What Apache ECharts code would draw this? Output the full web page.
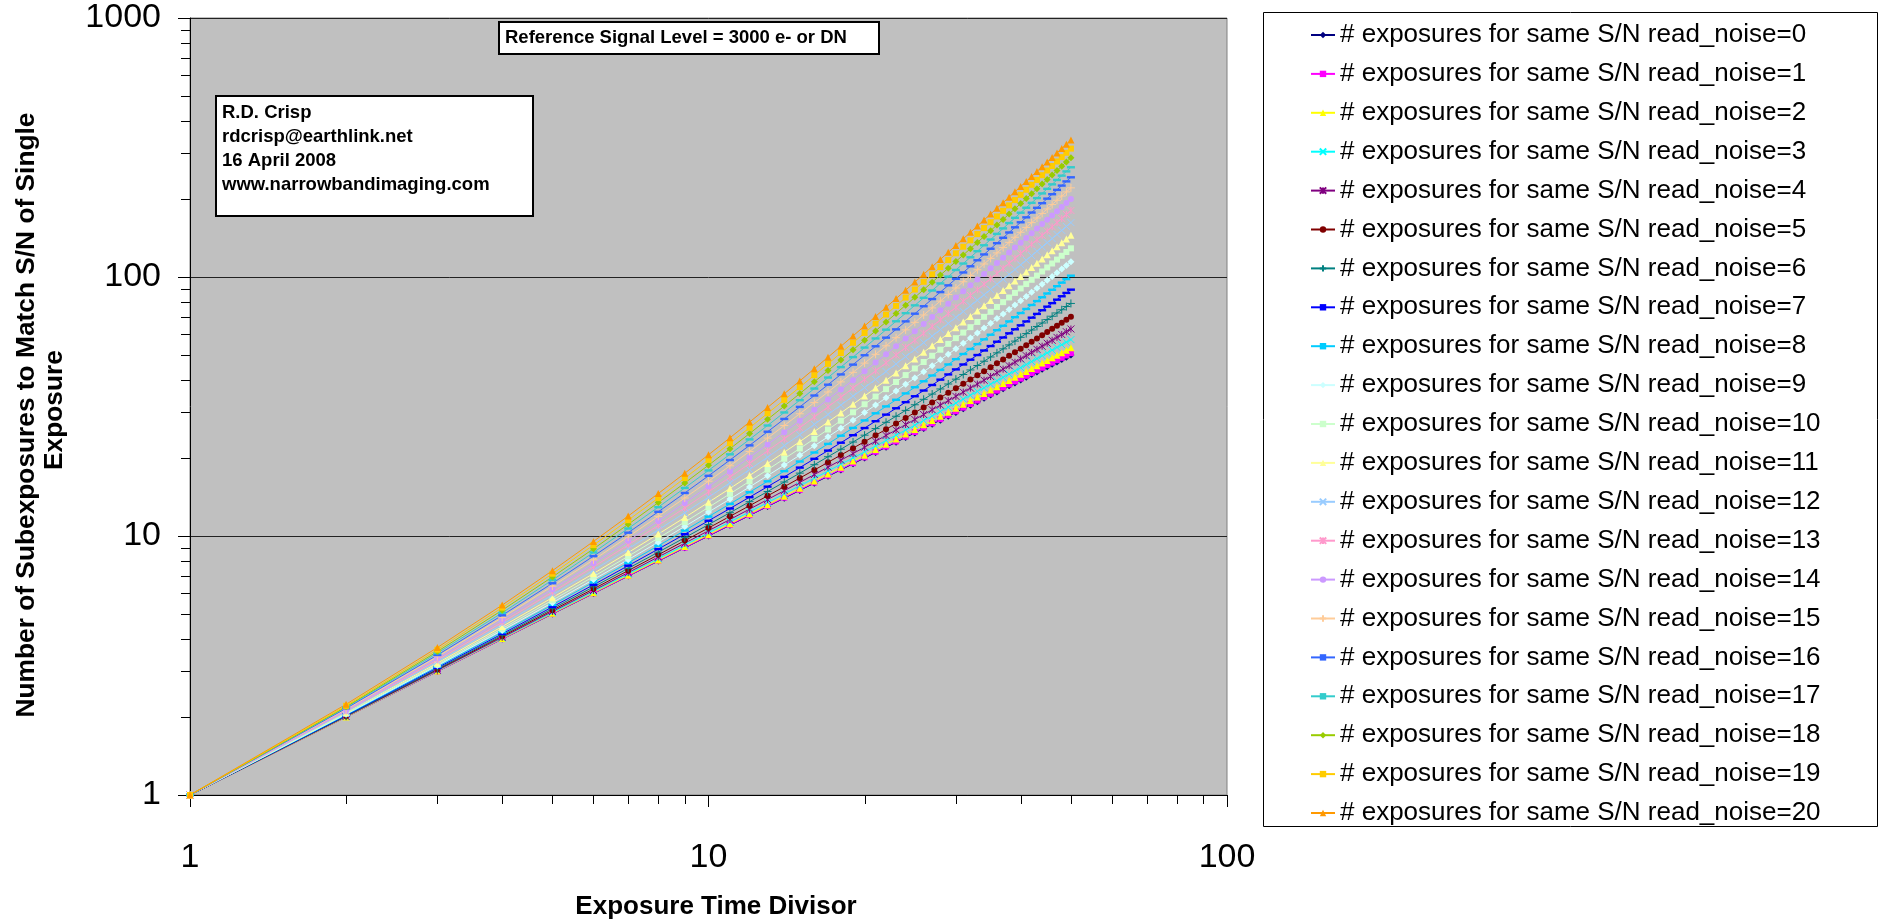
<!DOCTYPE html>
<html><head><meta charset="utf-8">
<script src="https://cdn.jsdelivr.net/npm/echarts@6/dist/echarts.min.js"></script>
<style>html,body{margin:0;padding:0;background:#fff;}#c{width:1881px;height:922px;}</style>
</head><body><div id="c"></div>
<script>
// ---- data ----
const divisors = [1,2,3,4,5,6,7,8,9,10,11,12,13,14,15,16,17,18,19,20,21,22,23,24,25,26,27,28,29,30,31,32,33,34,35,36,37,38,39,40,41,42,43,44,45,46,47,48,49,50];
const readNoise = [0,1,2,3,4,5,6,7,8,9,10,11,12,13,14,15,16,17,18,19,20];
const rn0 = [1,2,3,4,5,6,7,8,9,10,11,12,13,14,15,16,17,18,19,20,21,22,23,24,25,26,27,28,29,30,31,32,33,34,35,36,37,38,39,40,41,42,43,44,45,46,47,48,49,50];
const rn1 = [1,2,3,4,5.01,6.01,7.01,8.02,9.02,10.03,11.04,12.04,13.05,14.06,15.07,16.08,17.09,18.1,19.11,20.13,21.14,22.15,23.17,24.18,25.2,26.22,27.23,28.25,29.27,30.29,31.31,32.33,33.35,34.37,35.4,36.42,37.44,38.47,39.49,40.52,41.55,42.57,43.6,44.63,45.66,46.69,47.72,48.75,49.78,50.82];
const rn2 = [1,2,3.01,4.02,5.03,6.04,7.06,8.07,9.1,10.12,11.15,12.18,13.21,14.24,15.28,16.32,17.36,18.41,19.46,20.51,21.56,22.62,23.67,24.74,25.8,26.87,27.93,29.01,30.08,31.16,32.24,33.32,34.41,35.49,36.58,37.68,38.77,39.87,40.97,42.08,43.18,44.29,45.4,46.52,47.64,48.76,49.88,51,52.13,53.26];
const rn3 = [1,2.01,3.02,4.04,5.06,6.09,7.13,8.17,9.22,10.27,11.33,12.39,13.47,14.54,15.63,16.72,17.81,18.92,20.02,21.14,22.26,23.38,24.51,25.65,26.79,27.94,29.1,30.26,31.43,32.6,33.78,34.97,36.16,37.36,38.56,39.77,40.98,42.21,43.43,44.67,45.91,47.15,48.4,49.66,50.92,52.19,53.47,54.75,56.03,57.33];
const rn4 = [1,2.01,3.03,4.06,5.11,6.16,7.22,8.3,9.38,10.48,11.58,12.7,13.83,14.97,16.11,17.27,18.44,19.62,20.81,22.02,23.23,24.45,25.68,26.93,28.18,29.45,30.72,32.01,33.31,34.62,35.93,37.26,38.6,39.95,41.31,42.68,44.07,45.46,46.86,48.28,49.7,51.14,52.58,54.04,55.5,56.98,58.47,59.97,61.48,63];
const rn5 = [1,2.02,3.05,4.1,5.17,6.25,7.35,8.46,9.6,10.74,11.91,13.09,14.29,15.5,16.74,17.98,19.25,20.53,21.83,23.14,24.47,25.82,27.18,28.56,29.96,31.37,32.8,34.25,35.71,37.19,38.69,40.2,41.73,43.27,44.83,46.41,48.01,49.62,51.25,52.89,54.55,56.23,57.93,59.64,61.36,63.11,64.87,66.64,68.44,70.25];
const rn6 = [1,2.02,3.07,4.14,5.24,6.36,7.5,8.66,9.85,11.07,12.3,13.57,14.85,16.16,17.49,18.85,20.23,21.63,23.06,24.51,25.98,27.48,29,30.55,32.11,33.71,35.32,36.96,38.63,40.32,42.03,43.76,45.52,47.3,49.11,50.94,52.79,54.67,56.57,58.5,60.45,62.42,64.42,66.43,68.48,70.55,72.64,74.75,76.89,79.05];
const rn7 = [1,2.03,3.1,4.19,5.32,6.48,7.68,8.9,10.16,11.45,12.77,14.12,15.51,16.92,18.37,19.86,21.37,22.92,24.5,26.11,27.75,29.42,31.13,32.87,34.64,36.45,38.28,40.15,42.05,43.98,45.95,47.94,49.97,52.03,54.12,56.25,58.41,60.6,62.82,65.07,67.36,69.67,72.02,74.41,76.82,79.27,81.75,84.26,86.8,89.37];
const rn8 = [1,2.04,3.13,4.25,5.42,6.63,7.88,9.17,10.5,11.88,13.3,14.76,16.26,17.8,19.39,21.01,22.68,24.39,26.14,27.94,29.77,31.65,33.57,35.53,37.53,39.58,41.66,43.79,45.96,48.17,50.43,52.72,55.06,57.44,59.86,62.32,64.82,67.37,69.96,72.59,75.26,77.97,80.72,83.52,86.36,89.24,92.16,95.12,98.13,101.18];
const rn9 = [1,2.05,3.16,4.32,5.53,6.79,8.1,9.47,10.89,12.37,13.89,15.47,17.1,18.78,20.52,22.31,24.15,26.04,27.99,29.99,32.04,34.15,36.3,38.51,40.77,43.09,45.46,47.88,50.35,52.87,55.45,58.08,60.76,63.5,66.29,69.13,72.02,74.96,77.96,81.01,84.12,87.27,90.48,93.74,97.05,100.42,103.84,107.31,110.83,114.41];
const rn10 = [1,2.06,3.19,4.39,5.65,6.97,8.35,9.81,11.32,12.9,14.55,16.26,18.03,19.87,21.77,23.74,25.77,27.87,30.03,32.26,34.55,36.9,39.32,41.81,44.35,46.97,49.65,52.39,55.19,58.06,61,64,67.06,70.19,73.39,76.65,79.97,83.35,86.81,90.32,93.9,97.55,101.26,105.03,108.87,112.77,116.74,120.77,124.87,129.03];
const rn11 = [1,2.08,3.23,4.47,5.78,7.16,8.63,10.17,11.79,13.49,15.26,17.12,19.05,21.06,23.14,25.3,27.55,29.86,32.26,34.73,37.28,39.91,42.62,45.4,48.26,51.2,54.22,57.31,60.48,63.73,67.06,70.46,73.94,77.5,81.14,84.85,88.64,92.51,96.46,100.48,104.58,108.76,113.02,117.35,121.76,126.25,130.82,135.47,140.19,144.99];
const rn12 = [1,2.09,3.27,4.55,5.92,7.37,8.92,10.56,12.3,14.12,16.04,18.05,20.15,22.34,24.62,26.99,29.46,32.02,34.66,37.4,40.24,43.16,46.18,49.28,52.48,55.77,59.15,62.63,66.19,69.85,73.6,77.44,81.37,85.39,89.5,93.71,98.01,102.4,106.88,111.45,116.11,120.87,125.72,130.66,135.69,140.81,146.02,151.33,156.73,162.21];
const rn13 = [1,2.11,3.32,4.64,6.07,7.6,9.24,10.99,12.84,14.8,16.87,19.04,21.32,23.71,26.2,28.8,31.51,34.32,37.24,40.27,43.4,46.64,49.98,53.44,56.99,60.66,64.44,68.32,72.3,76.4,80.6,84.9,89.32,93.84,98.46,103.19,108.03,112.98,118.03,123.19,128.46,133.83,139.31,144.9,150.59,156.39,162.3,168.31,174.43,180.66];
const rn14 = [1,2.12,3.37,4.74,6.23,7.84,9.58,11.43,13.42,15.52,17.75,20.1,22.57,25.16,27.88,30.72,33.68,36.77,39.97,43.3,46.76,50.33,54.03,57.85,61.8,65.86,70.05,74.36,78.8,83.35,88.03,92.84,97.76,102.81,107.98,113.27,118.69,124.23,129.89,135.67,141.58,147.61,153.76,160.03,166.43,172.95,179.59,186.35,193.24,200.25];
const rn15 = [1,2.14,3.42,4.84,6.4,8.09,9.93,11.91,14.02,16.28,18.67,21.21,23.88,26.7,29.65,32.74,35.98,39.35,42.86,46.51,50.3,54.23,58.3,62.51,66.86,71.35,75.98,80.74,85.65,90.7,95.88,101.21,106.67,112.28,118.02,123.91,129.93,136.09,142.4,148.84,155.42,162.14,169,176,183.14,190.42,197.84,205.4,213.09,220.93];
const rn16 = [1,2.16,3.47,4.94,6.57,8.36,10.3,12.4,14.66,17.08,19.65,22.38,25.27,28.31,31.51,34.87,38.39,42.06,45.89,49.88,54.02,58.32,62.78,67.4,72.17,77.11,82.19,87.44,92.84,98.4,104.12,109.99,116.03,122.22,128.56,135.07,141.73,148.55,155.52,162.65,169.94,177.39,184.99,192.76,200.68,208.75,216.98,225.38,233.92,242.63];
const rn17 = [1,2.18,3.53,5.05,6.76,8.64,10.69,12.92,15.33,17.91,20.67,23.6,26.71,29.99,33.45,37.09,40.9,44.89,49.05,53.39,57.9,62.6,67.46,72.5,77.72,83.11,88.68,94.43,100.35,106.45,112.72,119.17,125.79,132.59,139.56,146.71,154.04,161.54,169.22,177.08,185.11,193.31,201.69,210.25,218.98,227.89,236.97,246.23,255.67,265.28];
const rn18 = [1,2.19,3.58,5.17,6.95,8.92,11.09,13.46,16.02,18.77,21.72,24.87,28.21,31.74,35.47,39.39,43.51,47.83,52.34,57.04,61.94,67.03,72.32,77.81,83.48,89.36,95.43,101.69,108.15,114.8,121.65,128.69,135.93,143.36,150.99,158.82,166.83,175.05,183.46,192.06,200.86,209.85,219.04,228.42,238,247.77,257.74,267.9,278.26,288.81];
const rn19 = [1,2.21,3.64,5.29,7.15,9.22,11.51,14.01,16.73,19.67,22.82,26.18,29.76,33.55,37.56,41.78,46.22,50.87,55.73,60.82,66.11,71.62,77.35,83.29,89.45,95.82,102.4,109.2,116.22,123.45,130.89,138.55,146.42,154.51,162.82,171.34,180.07,189.02,198.18,207.56,217.15,226.96,236.98,247.22,257.67,268.34,279.22,290.31,301.63,313.15];
const rn20 = [1,2.24,3.71,5.41,7.35,9.53,11.94,14.59,17.47,20.59,23.94,27.53,31.35,35.41,39.71,44.24,49,54,59.24,64.71,70.41,76.35,82.53,88.94,95.59,102.47,109.59,116.94,124.53,132.35,140.41,148.71,157.24,166,175,184.24,193.71,203.41,213.35,223.53,233.94,244.59,255.47,266.59,277.94,289.53,301.35,313.41,325.71,338.24];
const seriesValues = [rn0,rn1,rn2,rn3,rn4,rn5,rn6,rn7,rn8,rn9,rn10,rn11,rn12,rn13,rn14,rn15,rn16,rn17,rn18,rn19,rn20];
const xMinorTicks = [2,3,4,5,6,7,8,9,20,30,40,50,60,70,80,90];
const yMinorTicks = [2,3,4,5,6,7,8,9,20,30,40,50,60,70,80,90,200,300,400,500,600,700,800,900];
const xTitle = 'Exposure Time Divisor';
const yTitleLines = ['Number of Subexposures to Match S/N of Single', 'Exposure'];
const noteTitle = 'Reference Signal Level = 3000 e- or DN';
const authorLines = ['R.D. Crisp','rdcrisp@earthlink.net','16 April 2008','www.narrowbandimaging.com'];

// ---- styles ----
const colors = ['#000080','#FF00FF','#FFFF00','#00FFFF','#800080','#800000','#008080','#0000FF','#00CCFF','#CCFFFF','#CCFFCC','#FFFF99','#99CCFF','#FF99CC','#CC99FF','#FFCC99','#3366FF','#33CCCC','#99CC00','#FFCC00','#FF9900'];
const SYM = {
  diamond:{s:'diamond',size:7,fill:true},
  square:{s:'rect',size:6,fill:true},
  triangle:{s:'triangle',size:7,fill:true},
  x:{s:'path://M0,0L10,10M10,0L0,10',size:7,fill:false},
  star:{s:'path://M5,0L5,10M0,0L10,10M10,0L0,10',size:7,fill:false},
  circle:{s:'circle',size:6,fill:true},
  plus:{s:'path://M5,0L5,10M0,5L10,5',size:8,fill:false},
  dash:{s:'path://M0,0H10V3H0Z',size:8,fill:true,keep:true}
};
const markerOrder = ['diamond','square','triangle','x','star','circle','plus','dash','dash','diamond','square','triangle','x','star','circle','plus','dash','dash','diamond','square','triangle'];
const FONT = '"Liberation Sans", Arial, sans-serif';
const names = readNoise.map(r => '# exposures for same S/N read_noise=' + r);

const series = seriesValues.map((vals, i) => {
  const m = SYM[markerOrder[i]];
  return {
    name: names[i], type: 'line',
    data: divisors.map((d, k) => [d, vals[k]]),
    symbol: m.s, symbolSize: m.size, symbolKeepAspect: !!m.keep,
    showSymbol: true,
    lineStyle: {color: colors[i], width: 1},
    itemStyle: {color: colors[i], borderColor: colors[i], borderWidth: m.fill ? 0 : 1},
    emphasis: {disabled: true}, silent: true, animation: false, z: 2
  };
});

series.push({
  type: 'custom', coordinateSystem: 'cartesian2d', clip: false, silent: true, z: 5,
  data: xMinorTicks.map(v => [v, 1]),
  renderItem: (p, api) => {
    const c = api.coord([api.value(0), api.value(1)]);
    const x = Math.round(c[0]) + 0.5;
    return {type: 'line', shape: {x1: x, y1: c[1], x2: x, y2: c[1] + 9}, style: {stroke: '#000', lineWidth: 1}};
  }
});
series.push({
  type: 'custom', coordinateSystem: 'cartesian2d', clip: false, silent: true, z: 5,
  data: yMinorTicks.map(v => [1, v]),
  renderItem: (p, api) => {
    const c = api.coord([api.value(0), api.value(1)]);
    const y = Math.round(c[1]) + 0.5;
    return {type: 'line', shape: {x1: c[0] - 9, y1: y, x2: c[0], y2: y}, style: {stroke: '#000', lineWidth: 1}};
  }
});

const chart = echarts.init(document.getElementById('c'), null, {renderer: 'canvas'});
chart.setOption({
  animation: false,
  backgroundColor: '#fff',
  textStyle: {fontFamily: FONT},
  grid: {left: 190, right: 654, top: 18, bottom: 127, show: true, backgroundColor: '#C0C0C0', borderColor: '#808080', borderWidth: 1, containLabel: false, outerBoundsMode: 'none'},
  xAxis: {
    type: 'log', logBase: 10, min: 1, max: 100,
    axisLine: {show: true, lineStyle: {color: '#000', width: 1}},
    axisTick: {show: true, length: 12, lineStyle: {color: '#000'}},
    axisLabel: {fontSize: 34, color: '#000', margin: 46, fontFamily: FONT, formatter: v => String(Math.round(v))},
    splitLine: {show: false}, minorTick: {show: false}
  },
  yAxis: {
    type: 'log', logBase: 10, min: 1, max: 1000,
    axisLine: {show: true, lineStyle: {color: '#000', width: 1}},
    axisTick: {show: true, length: 12, lineStyle: {color: '#000'}},
    axisLabel: {fontSize: 34, color: '#000', margin: 29, fontFamily: FONT, formatter: v => String(Math.round(v))},
    splitLine: {show: true, lineStyle: {color: '#222', width: 1}}, minorTick: {show: false}
  },
  legend: {
    orient: 'vertical', left: 1310, top: 22, padding: 0,
    itemWidth: 24, itemHeight: 8, itemGap: 12.9, selectedMode: false,
    textStyle: {fontSize: 26, color: '#000', fontFamily: FONT},
    data: names, z: 5
  },
  graphic: [
    {type: 'rect', z: 1, shape: {x: 1263.5, y: 12.5, width: 614, height: 814}, style: {fill: '#fff', stroke: '#000', lineWidth: 1}},
    {type: 'rect', z: 50, shape: {x: 499, y: 22, width: 380, height: 32}, style: {fill: '#fff', stroke: '#000', lineWidth: 2}},
    {type: 'text', z: 51, x: 505, y: 38, style: {text: noteTitle, font: 'bold 18.5px ' + FONT, fill: '#000', verticalAlign: 'middle'}},
    {type: 'rect', z: 50, shape: {x: 216, y: 96, width: 317, height: 120}, style: {fill: '#fff', stroke: '#000', lineWidth: 2}},
    ...authorLines.map((t, i) => ({type: 'text', z: 51, x: 222, y: 113 + i * 24, style: {text: t, font: 'bold 18.5px ' + FONT, fill: '#000', verticalAlign: 'middle'}})),
    {type: 'text', z: 51, x: 716, y: 907, style: {text: xTitle, font: 'bold 26px ' + FONT, fill: '#000', align: 'center', verticalAlign: 'middle'}},
    {type: 'text', z: 51, x: 27, y: 415, rotation: Math.PI / 2, style: {text: yTitleLines[0], font: 'bold 26.3px ' + FONT, fill: '#000', align: 'center', verticalAlign: 'middle'}},
    {type: 'text', z: 51, x: 55, y: 410, rotation: Math.PI / 2, style: {text: yTitleLines[1], font: 'bold 26.3px ' + FONT, fill: '#000', align: 'center', verticalAlign: 'middle'}}
  ],
  series: series
});
</script></body></html>
